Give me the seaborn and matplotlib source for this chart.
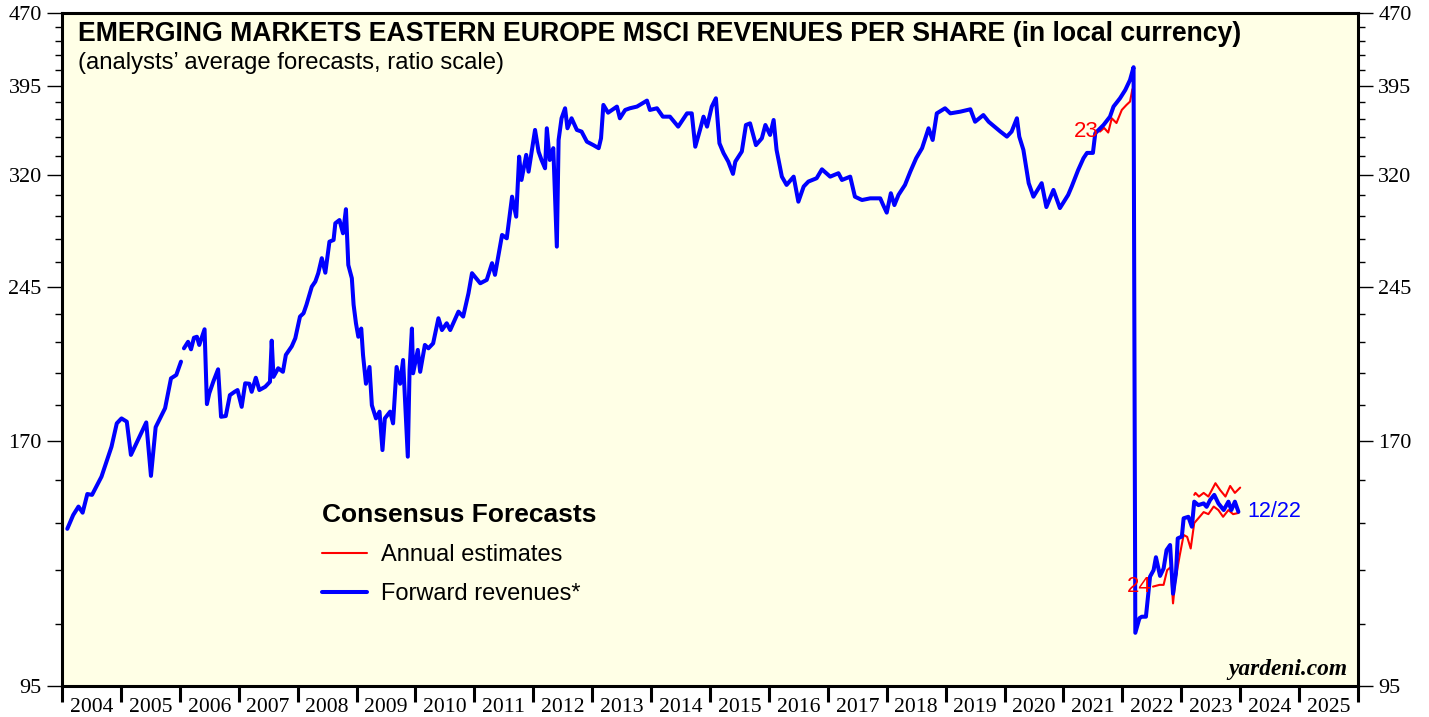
import numpy as np
import pandas as pd
import matplotlib
matplotlib.use("Agg")
import matplotlib.pyplot as plt
from matplotlib.ticker import FixedLocator, NullFormatter, FixedFormatter
import seaborn as sns


# DATA (decimal years, revenues per share in local currency)
fwd_dates_a = [2004.09, 2004.19, 2004.28, 2004.35, 2004.43, 2004.51, 2004.67, 2004.84,
               2004.93, 2005.01, 2005.10, 2005.17, 2005.43, 2005.51, 2005.59, 2005.75,
               2005.85, 2005.94, 2006.02]
fwd_vals_a = [138.0, 142.6, 145.5, 143.4, 149.9, 149.6, 156.2, 167.7,
              177.3, 179.4, 178.0, 164.5, 177.7, 156.5, 175.7, 183.8,
              197.3, 198.9, 205.3]

fwd_dates_b = [2006.07, 2006.14, 2006.19, 2006.24, 2006.29, 2006.33, 2006.42, 2006.46,
               2006.50, 2006.57, 2006.65, 2006.70, 2006.78, 2006.85, 2006.93, 2006.98,
               2007.05, 2007.11, 2007.18, 2007.22, 2007.29, 2007.35, 2007.45, 2007.53,
               2007.56, 2007.59, 2007.67, 2007.75, 2007.80, 2007.90, 2007.96, 2008.04,
               2008.10, 2008.15, 2008.24, 2008.30, 2008.35, 2008.41, 2008.47, 2008.54,
               2008.61, 2008.64, 2008.71, 2008.77, 2008.82, 2008.86, 2008.92, 2008.95,
               2008.99, 2009.03, 2009.08, 2009.11, 2009.16, 2009.22, 2009.26, 2009.33,
               2009.39, 2009.44, 2009.48, 2009.57, 2009.62, 2009.68, 2009.74, 2009.79,
               2009.87, 2009.90, 2009.94, 2009.96, 2010.04, 2010.08, 2010.16, 2010.22,
               2010.30, 2010.39, 2010.45, 2010.53, 2010.59, 2010.73, 2010.81, 2010.90,
               2010.96, 2011.10, 2011.21, 2011.30, 2011.35, 2011.47, 2011.55, 2011.64,
               2011.71, 2011.76, 2011.80, 2011.88, 2011.92, 2012.03, 2012.09, 2012.14,
               2012.20, 2012.23, 2012.28, 2012.34, 2012.40, 2012.43, 2012.48, 2012.54,
               2012.58, 2012.65, 2012.74, 2012.82, 2012.91, 2013.02, 2013.11, 2013.15,
               2013.19, 2013.27, 2013.42, 2013.47, 2013.56, 2013.64, 2013.76, 2013.93,
               2013.98, 2014.10, 2014.20, 2014.32, 2014.46, 2014.61, 2014.69, 2014.75,
               2014.83, 2014.89, 2014.95, 2015.03, 2015.10, 2015.16, 2015.23, 2015.31,
               2015.39, 2015.43, 2015.54, 2015.61, 2015.68, 2015.78, 2015.88, 2015.94,
               2016.02, 2016.08, 2016.13, 2016.22, 2016.30, 2016.42, 2016.50, 2016.59,
               2016.67, 2016.81, 2016.90, 2017.04, 2017.18, 2017.24, 2017.38, 2017.46,
               2017.58, 2017.72, 2017.89, 2017.94, 2018.00, 2018.07, 2018.13, 2018.20,
               2018.31, 2018.40, 2018.50, 2018.60, 2018.71, 2018.78, 2018.85, 2018.99,
               2019.08, 2019.25, 2019.42, 2019.50, 2019.64, 2019.73, 2019.93, 2020.04,
               2020.12, 2020.21, 2020.25, 2020.32, 2020.41, 2020.49, 2020.63, 2020.71,
               2020.83, 2020.94, 2021.08, 2021.14, 2021.25, 2021.34, 2021.40, 2021.50,
               2021.54, 2021.68, 2021.79, 2021.85, 2021.96, 2022.05, 2022.13, 2022.19,
               2022.22, 2022.29, 2022.33, 2022.40, 2022.47, 2022.53, 2022.57, 2022.64,
               2022.70, 2022.75, 2022.81, 2022.86, 2022.91, 2022.94, 2023.01, 2023.04,
               2023.12, 2023.18, 2023.22, 2023.29, 2023.38, 2023.43, 2023.49, 2023.56,
               2023.63, 2023.72, 2023.80, 2023.85, 2023.91, 2023.97]
fwd_vals_b = [211.9, 215.2, 211.4, 217.3, 217.8, 213.6, 221.7, 185.6,
              190.4, 195.9, 201.6, 180.1, 180.4, 189.6, 191.1, 191.9,
              184.4, 195.0, 194.8, 191.1, 197.6, 191.9, 193.4, 195.7,
              215.8, 198.0, 202.1, 200.4, 208.6, 212.9, 217.0, 228.5,
              230.3, 235.0, 245.3, 248.3, 253.3, 262.5, 253.6, 273.0,
              274.1, 285.2, 287.4, 278.5, 294.9, 258.3, 250.3, 235.0,
              224.9, 217.8, 222.1, 208.6, 194.8, 202.7, 185.1, 179.4,
              182.3, 166.4, 179.4, 182.3, 177.3, 202.7, 194.8, 206.1,
              163.8, 201.3, 222.1, 199.7, 211.1, 200.4, 213.6, 211.9,
              214.4, 227.6, 221.3, 224.9, 221.3, 231.2, 228.5, 241.5,
              253.3, 247.3, 249.3, 259.4, 252.3, 277.4, 275.2, 303.8,
              289.7, 334.1, 316.1, 335.5, 322.4, 356.0, 338.1, 331.5,
              325.0, 357.4, 331.5, 340.9, 269.8, 347.6, 366.0, 374.8,
              357.4, 366.0, 356.0, 354.6, 346.2, 343.4, 340.9, 349.0,
              377.8, 370.9, 376.3, 366.0, 373.3, 374.8, 376.3, 381.7,
              373.3, 374.8, 367.4, 367.4, 358.8, 370.3, 370.3, 342.1,
              356.0, 367.4, 358.8, 376.3, 383.8, 344.9, 336.9, 330.2,
              320.7, 330.2, 338.2, 360.2, 361.6, 343.4, 349.0, 360.2,
              351.8, 364.5, 339.5, 318.6, 312.4, 318.6, 300.2, 311.2,
              314.9, 317.4, 324.2, 318.6, 321.2, 316.1, 318.6, 303.8,
              301.4, 302.6, 302.6, 297.8, 292.5, 306.3, 297.8, 305.1,
              312.4, 322.4, 332.9, 340.9, 357.4, 347.6, 370.3, 374.8,
              370.3, 371.8, 373.9, 363.0, 368.8, 363.0, 354.6, 350.4,
              354.6, 366.0, 350.4, 339.5, 313.7, 303.8, 313.7, 296.4,
              308.7, 295.7, 305.1, 311.2, 323.7, 332.9, 337.1, 337.1,
              353.2, 360.2, 367.4, 376.3, 383.8, 391.5, 400.9, 413.2,
              107.8, 111.6, 112.0, 112.0, 123.2, 125.1, 129.0, 123.4,
              125.6, 131.2, 132.8, 118.3, 124.2, 134.9, 135.5, 141.5,
              142.0, 138.7, 147.2, 146.0, 146.6, 145.4, 147.8, 149.6,
              146.6, 144.3, 147.2, 144.3, 147.2, 143.7]

est23_dates = [2021.62, 2021.69, 2021.76, 2021.82, 2021.90, 2021.99, 2022.07, 2022.13, 2022.17]
est23_vals = [354.6, 357.7, 353.8, 366.0, 361.9, 373.3, 377.8, 380.8, 392.2]

est24_dates = [2022.52, 2022.63, 2022.70, 2022.76, 2022.82, 2022.86, 2022.90, 2022.97,
               2023.04, 2023.10, 2023.16, 2023.22, 2023.29, 2023.38, 2023.46, 2023.55,
               2023.63, 2023.71, 2023.80, 2023.88, 2023.97]
est24_vals = [120.3, 120.8, 120.8, 125.1, 126.0, 115.6, 122.2, 129.2,
              136.0, 135.4, 131.7, 139.9, 141.5, 143.6, 142.9, 145.5,
              144.3, 142.0, 144.3, 142.9, 143.3]

est25_dates = [2023.22, 2023.24, 2023.30, 2023.38, 2023.46, 2023.58, 2023.66, 2023.75,
               2023.83, 2023.91, 2024.00]
est25_vals = [149.6, 150.3, 149.0, 150.3, 149.0, 153.8, 151.3, 149.0,
              152.8, 150.3, 152.2]

y_ticks = [95, 170, 245, 320, 395, 470]
y_minor = [v for v in range(95, 471, 15) if v not in y_ticks]
years = list(range(2004, 2026))

RED = "#FF0000"
BLUE = "#0000FF"
BG = "#FFFFE6"

# STYLE
sns.set_style("ticks")
plt.rcParams["font.family"] = ["Liberation Sans", "DejaVu Sans"]
plt.rcParams["text.color"] = "black"
plt.rcParams["xtick.color"] = "black"
plt.rcParams["ytick.color"] = "black"
plt.rcParams["axes.labelcolor"] = "black"

fig = plt.figure(figsize=(14.29, 7.17), dpi=100)
ax = fig.add_axes([62 / 1429, 31 / 717, 1296 / 1429, 673 / 717])
ax.set_facecolor(BG)

# ANNUAL ESTIMATES (red, thin) then FORWARD REVENUES (blue, thick)
for d, v in [(est23_dates, est23_vals), (est24_dates, est24_vals), (est25_dates, est25_vals)]:
    sns.lineplot(x=d, y=v, ax=ax, color=RED, linewidth=1.5, estimator=None, sort=False)
for d, v in [(fwd_dates_a, fwd_vals_a), (fwd_dates_b, fwd_vals_b)]:
    sns.lineplot(x=d, y=v, ax=ax, color=BLUE, linewidth=2.9, estimator=None, sort=False)

# AXES
ax.set_yscale("log")
ax.set_ylim(95, 470)
ax.set_xlim(2004, 2026)
ax.yaxis.set_major_locator(FixedLocator(y_ticks))
ax.yaxis.set_major_formatter(FixedFormatter([str(v) for v in y_ticks]))
ax.yaxis.set_minor_locator(FixedLocator(y_minor))
ax.yaxis.set_minor_formatter(NullFormatter())

ax.xaxis.set_major_locator(FixedLocator(list(range(2004, 2027))))
ax.xaxis.set_major_formatter(NullFormatter())
ax.xaxis.set_minor_locator(FixedLocator([y + 0.5 for y in years]))
ax.xaxis.set_minor_formatter(FixedFormatter([str(y) for y in years]))

serif = ["Liberation Serif", "DejaVu Serif"]
ax.tick_params(axis="y", which="major", direction="out", length=11, width=1.0,
               left=True, right=True, labelleft=True, labelright=True, pad=3.5,
               labelsize=16, colors="black")
ax.tick_params(axis="y", which="minor", direction="out", length=5, width=1.0,
               left=True, right=True)
ax.tick_params(axis="x", which="major", direction="out", length=11.5, width=2.2,
               bottom=True, top=False)
ax.tick_params(axis="x", which="minor", length=0, pad=9, labelsize=15.6,
               colors="black")
for lab in ax.get_yticklabels() + ax.get_xticklabels(minor=True):
    lab.set_family(serif)

for s in ax.spines.values():
    s.set_visible(True)
    s.set_linewidth(2.2)
    s.set_color("black")
ax.set_xlabel("")
ax.set_ylabel("")

# TITLES
ax.text(16 / 1296, (686 - 34) / 673,
        "EMERGING MARKETS EASTERN EUROPE MSCI REVENUES PER SHARE (in local currency)",
        transform=ax.transAxes, fontsize=19.2, fontweight="bold", va="center", ha="left")
ax.text(16 / 1296, (686 - 63) / 673, "(analysts\u2019 average forecasts, ratio scale)",
        transform=ax.transAxes, fontsize=17.2, va="center", ha="left")

# SERIES LABELS
ax.text(est23_dates[0] - 0.02, est23_vals[0], "23", color=RED, fontsize=16,
        ha="right", va="center")
ax.text(est24_dates[0] - 0.02, est24_vals[0], "24", color=RED, fontsize=16,
        ha="right", va="center")
ax.text(fwd_dates_b[-1] + 0.15, fwd_vals_b[-1], "12/22", color=BLUE, fontsize=15.5,
        ha="left", va="center")

# LEGEND
handles = [plt.Line2D([], [], color=RED, linewidth=1.5),
           plt.Line2D([], [], color=BLUE, linewidth=2.9)]
leg = ax.legend(handles, ["Annual estimates", "Forward revenues*"],
                title="Consensus Forecasts", frameon=False, fontsize=17,
                title_fontproperties={"weight": "bold", "size": 19},
                loc="upper left", bbox_to_anchor=((322 - 62) / 1296, (686 - 503) / 673),
                borderpad=0, borderaxespad=0, handlelength=1.9, handletextpad=0.6,
                labelspacing=0.72)
leg._legend_box.align = "left"

# WATERMARK
ax.text(0.992, 0.025, "yardeni.com", transform=ax.transAxes, fontsize=16.8,
        fontweight="bold", style="italic", family=serif, ha="right", va="center")

fig.savefig("out.png", dpi=100, facecolor="white")
plt.close(fig)
